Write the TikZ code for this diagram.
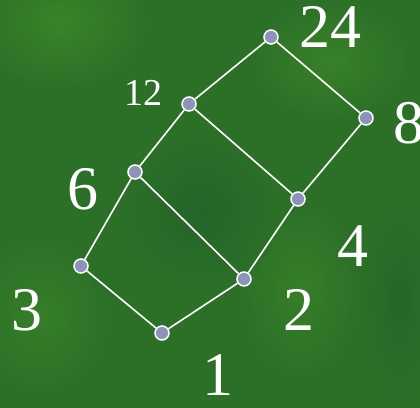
\documentclass[tikz,border=0pt]{standalone}
\usepackage{fontspec}
\setmainfont{Liberation Serif}
\usepackage{xcolor}
\usetikzlibrary{calc}
\definecolor{boardgreen}{RGB}{44,112,40}
\definecolor{boardlight}{RGB}{62,136,42}
\definecolor{boarddark}{RGB}{34,96,42}
\definecolor{dotblue}{RGB}{140,148,186}

\begin{document}
\begin{tikzpicture}[
    x=1pt, y=-1pt,
    dot/.style={circle, draw=white, fill=dotblue, line width=1.5pt,
                minimum size=14pt, inner sep=0pt},
    big/.style={text=white, font=\fontsize{62}{62}\selectfont, inner sep=0pt},
    small/.style={text=white, font=\fontsize{38}{38}\selectfont, inner sep=0pt},
    edge/.style={draw=white, line width=1.6pt},
]
\useasboundingbox (0,0) rectangle (420,407);
% background
\begin{scope}
\clip (0,0) rectangle (420,407);
\fill[boardgreen] (-5,-5) rectangle (425,412);
\shade[inner color=boardlight, outer color=boardgreen, opacity=0.8]
    (60,20) ellipse (90 and 70);
\shade[inner color=boardlight, outer color=boardgreen, opacity=0.7]
    (330,60) ellipse (80 and 60);
\shade[inner color=boardlight, outer color=boardgreen, opacity=0.6]
    (40,315) ellipse (70 and 80);
\shade[inner color=boardlight, outer color=boardgreen, opacity=0.6]
    (300,290) ellipse (60 and 90);
\shade[inner color=boarddark, outer color=boardgreen, opacity=0.7]
    (200,210) ellipse (80 and 80);
\shade[inner color=boarddark, outer color=boardgreen, opacity=0.6]
    (400,300) ellipse (40 and 100);
\end{scope}

% divisors
\node[dot] (n24) at (271,37)  {};
\node[dot] (n12) at (189,104) {};
\node[dot] (n8)  at (366,118) {};
\node[dot] (n6)  at (135,172) {};
\node[dot] (n4)  at (298,199) {};
\node[dot] (n3)  at (81,266)  {};
\node[dot] (n2)  at (244,279) {};
\node[dot] (n1)  at (162,333) {};

% order relation
\foreach \a/\b in {n1/n3, n1/n2, n3/n6, n2/n6, n2/n4,
                   n6/n12, n4/n12, n4/n8, n12/n24, n8/n24}
    \draw[edge] (\a) -- (\b);

\node[big]   (l24) at (330,27)  {24};
\node[small] (l12) at (143,93)  {12};
\node[big]   (l8)  at (409,123) {8};
\node[big]   (l6)  at (83,189)  {6};
\node[big]   (l4)  at (353,246) {4};
\node[big]   (l3)  at (27,310)  {3};
\node[big]   (l2)  at (299,310) {2};
\node[big]   (l1)  at (218,375) {1};
\end{tikzpicture}
\end{document}
